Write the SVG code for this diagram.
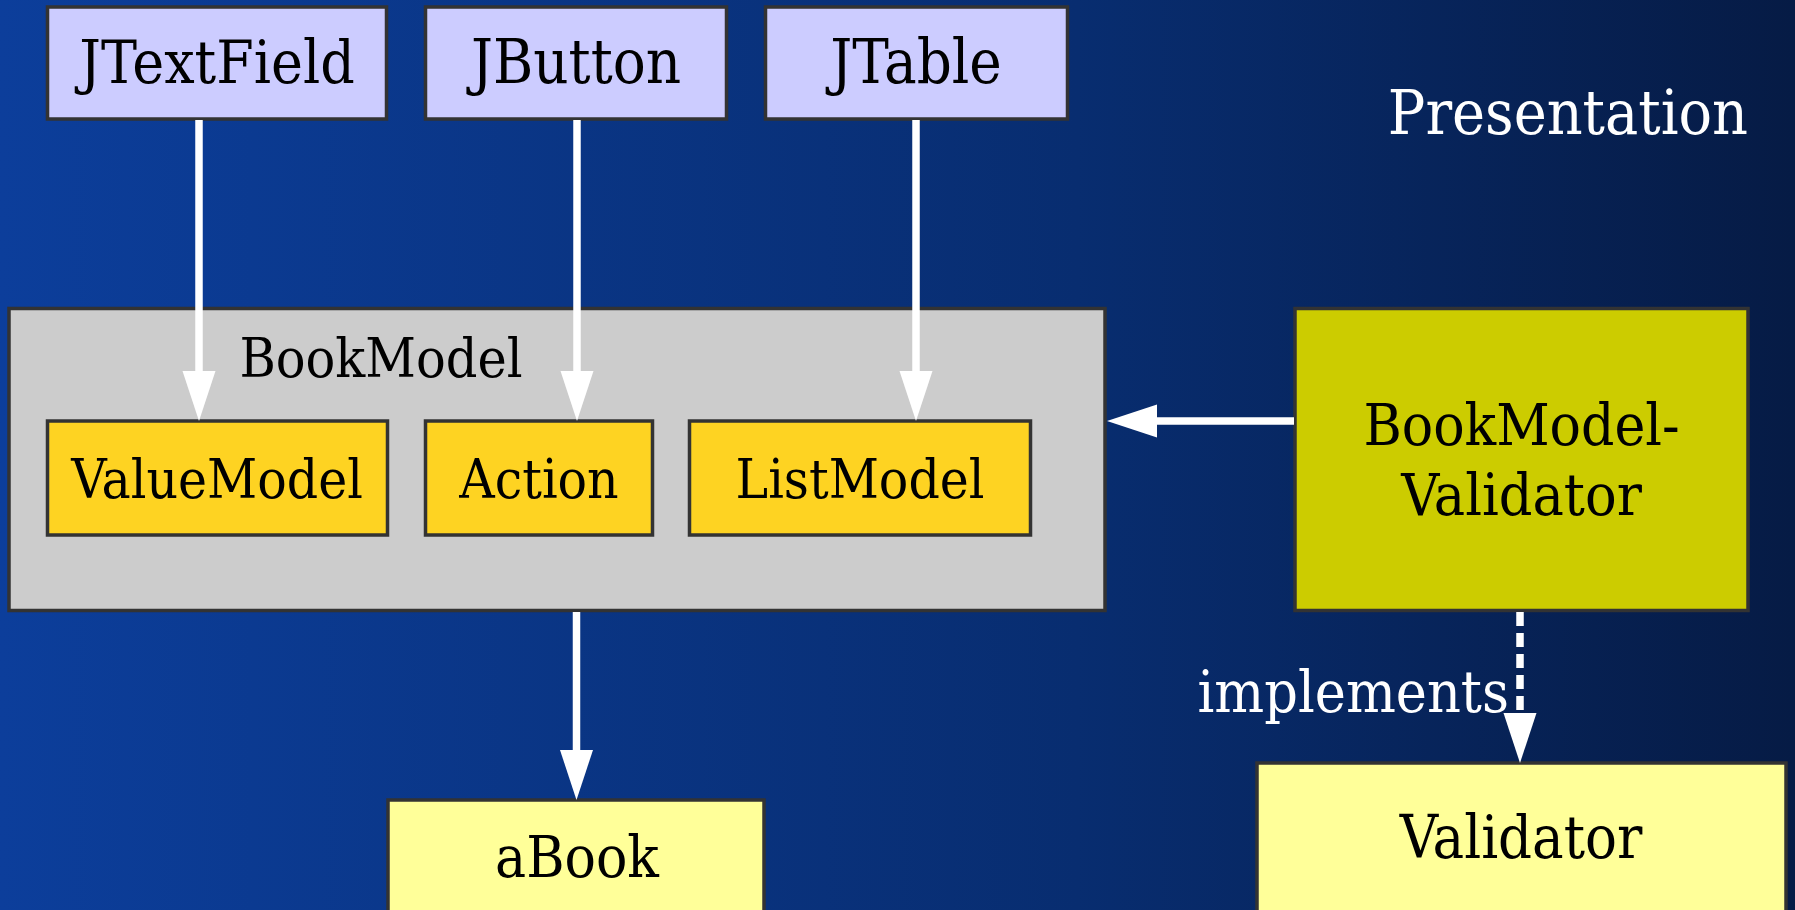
<svg xmlns="http://www.w3.org/2000/svg" width="1795" height="910" viewBox="0 0 1795 910">
<defs>
<linearGradient id="bg" x1="0" y1="0" x2="1" y2="0">
<stop offset="0" stop-color="#0c3e9b"/>
<stop offset="0.6" stop-color="#082d70"/>
<stop offset="1" stop-color="#061b45"/>
</linearGradient>
<marker id="ah" viewBox="0 -17 50 34" markerWidth="50" markerHeight="34" refX="0" refY="0" markerUnits="userSpaceOnUse" orient="auto">
<path d="M0,-16.5 L50,0 L0,16.5 Z" fill="#ffffff"/>
</marker>
<style>
.box{stroke:#333333;stroke-width:3.5}
.ui{fill:#ccccff}
.cont{fill:#cccccc}
.mod{fill:#fed322}
.val{fill:#cccc00}
.obj{fill:#ffff99}
text{font-family:"DejaVu Serif Condensed","DejaVu Serif","Liberation Serif",serif;font-stretch:condensed;fill:#000000;text-anchor:middle}
.edge{stroke:#ffffff;stroke-width:7.5;fill:none;marker-end:url(#ah)}
.dash{stroke-dasharray:14 7}
</style>
</defs>
<rect width="1795" height="910" fill="url(#bg)"/>
<text x="1748" y="134" font-size="62" style="fill:#ffffff;text-anchor:end">Presentation</text>
<g id="jtextfield"><rect class="box ui" x="47.5" y="7" width="339" height="112"/><text x="217" y="83" font-size="60">JTextField</text></g>
<g id="jbutton"><rect class="box ui" x="425.5" y="7" width="301" height="112"/><text x="576" y="83" font-size="61">JButton</text></g>
<g id="jtable"><rect class="box ui" x="765.5" y="7" width="302" height="112"/><text x="916" y="83" font-size="61">JTable</text></g>
<g id="bookmodel"><rect class="box cont" x="9" y="308.5" width="1096" height="302"/><text x="381" y="377" font-size="55">BookModel</text></g>
<g id="valuemodel"><rect class="box mod" x="47.5" y="421" width="340" height="114"/><text x="217" y="498" font-size="54.5">ValueModel</text></g>
<g id="action"><rect class="box mod" x="425.5" y="421" width="227" height="114"/><text x="539" y="498" font-size="54.5">Action</text></g>
<g id="listmodel"><rect class="box mod" x="689.5" y="421" width="341" height="114"/><text x="860" y="498" font-size="54.5">ListModel</text></g>
<g id="bookmodelvalidator"><rect class="box val" x="1295" y="308.5" width="453" height="302"/><text x="1521.5" y="445" font-size="58">BookModel-</text><text x="1521.5" y="515" font-size="58.5">Validator</text></g>
<g id="abook"><rect class="box obj" x="388" y="800" width="376" height="130"/><text x="577" y="877" font-size="58">aBook</text></g>
<g id="validator"><rect class="box obj" x="1257" y="763" width="529" height="170"/><text x="1521" y="858" font-size="59">Validator</text></g>
<g id="connectors">
<line class="edge" x1="199" y1="120" x2="199" y2="371"/>
<line class="edge" x1="577" y1="120" x2="577" y2="371"/>
<line class="edge" x1="916" y1="120" x2="916" y2="371"/>
<line class="edge" x1="576.5" y1="612" x2="576.5" y2="750"/>
<line class="edge" x1="1294" y1="421" x2="1157" y2="421"/>
<line class="edge dash" x1="1520" y1="612" x2="1520" y2="713"/>
<text x="1509" y="712" font-size="58.5" style="fill:#ffffff;text-anchor:end">implements</text>
</g>
</svg>
